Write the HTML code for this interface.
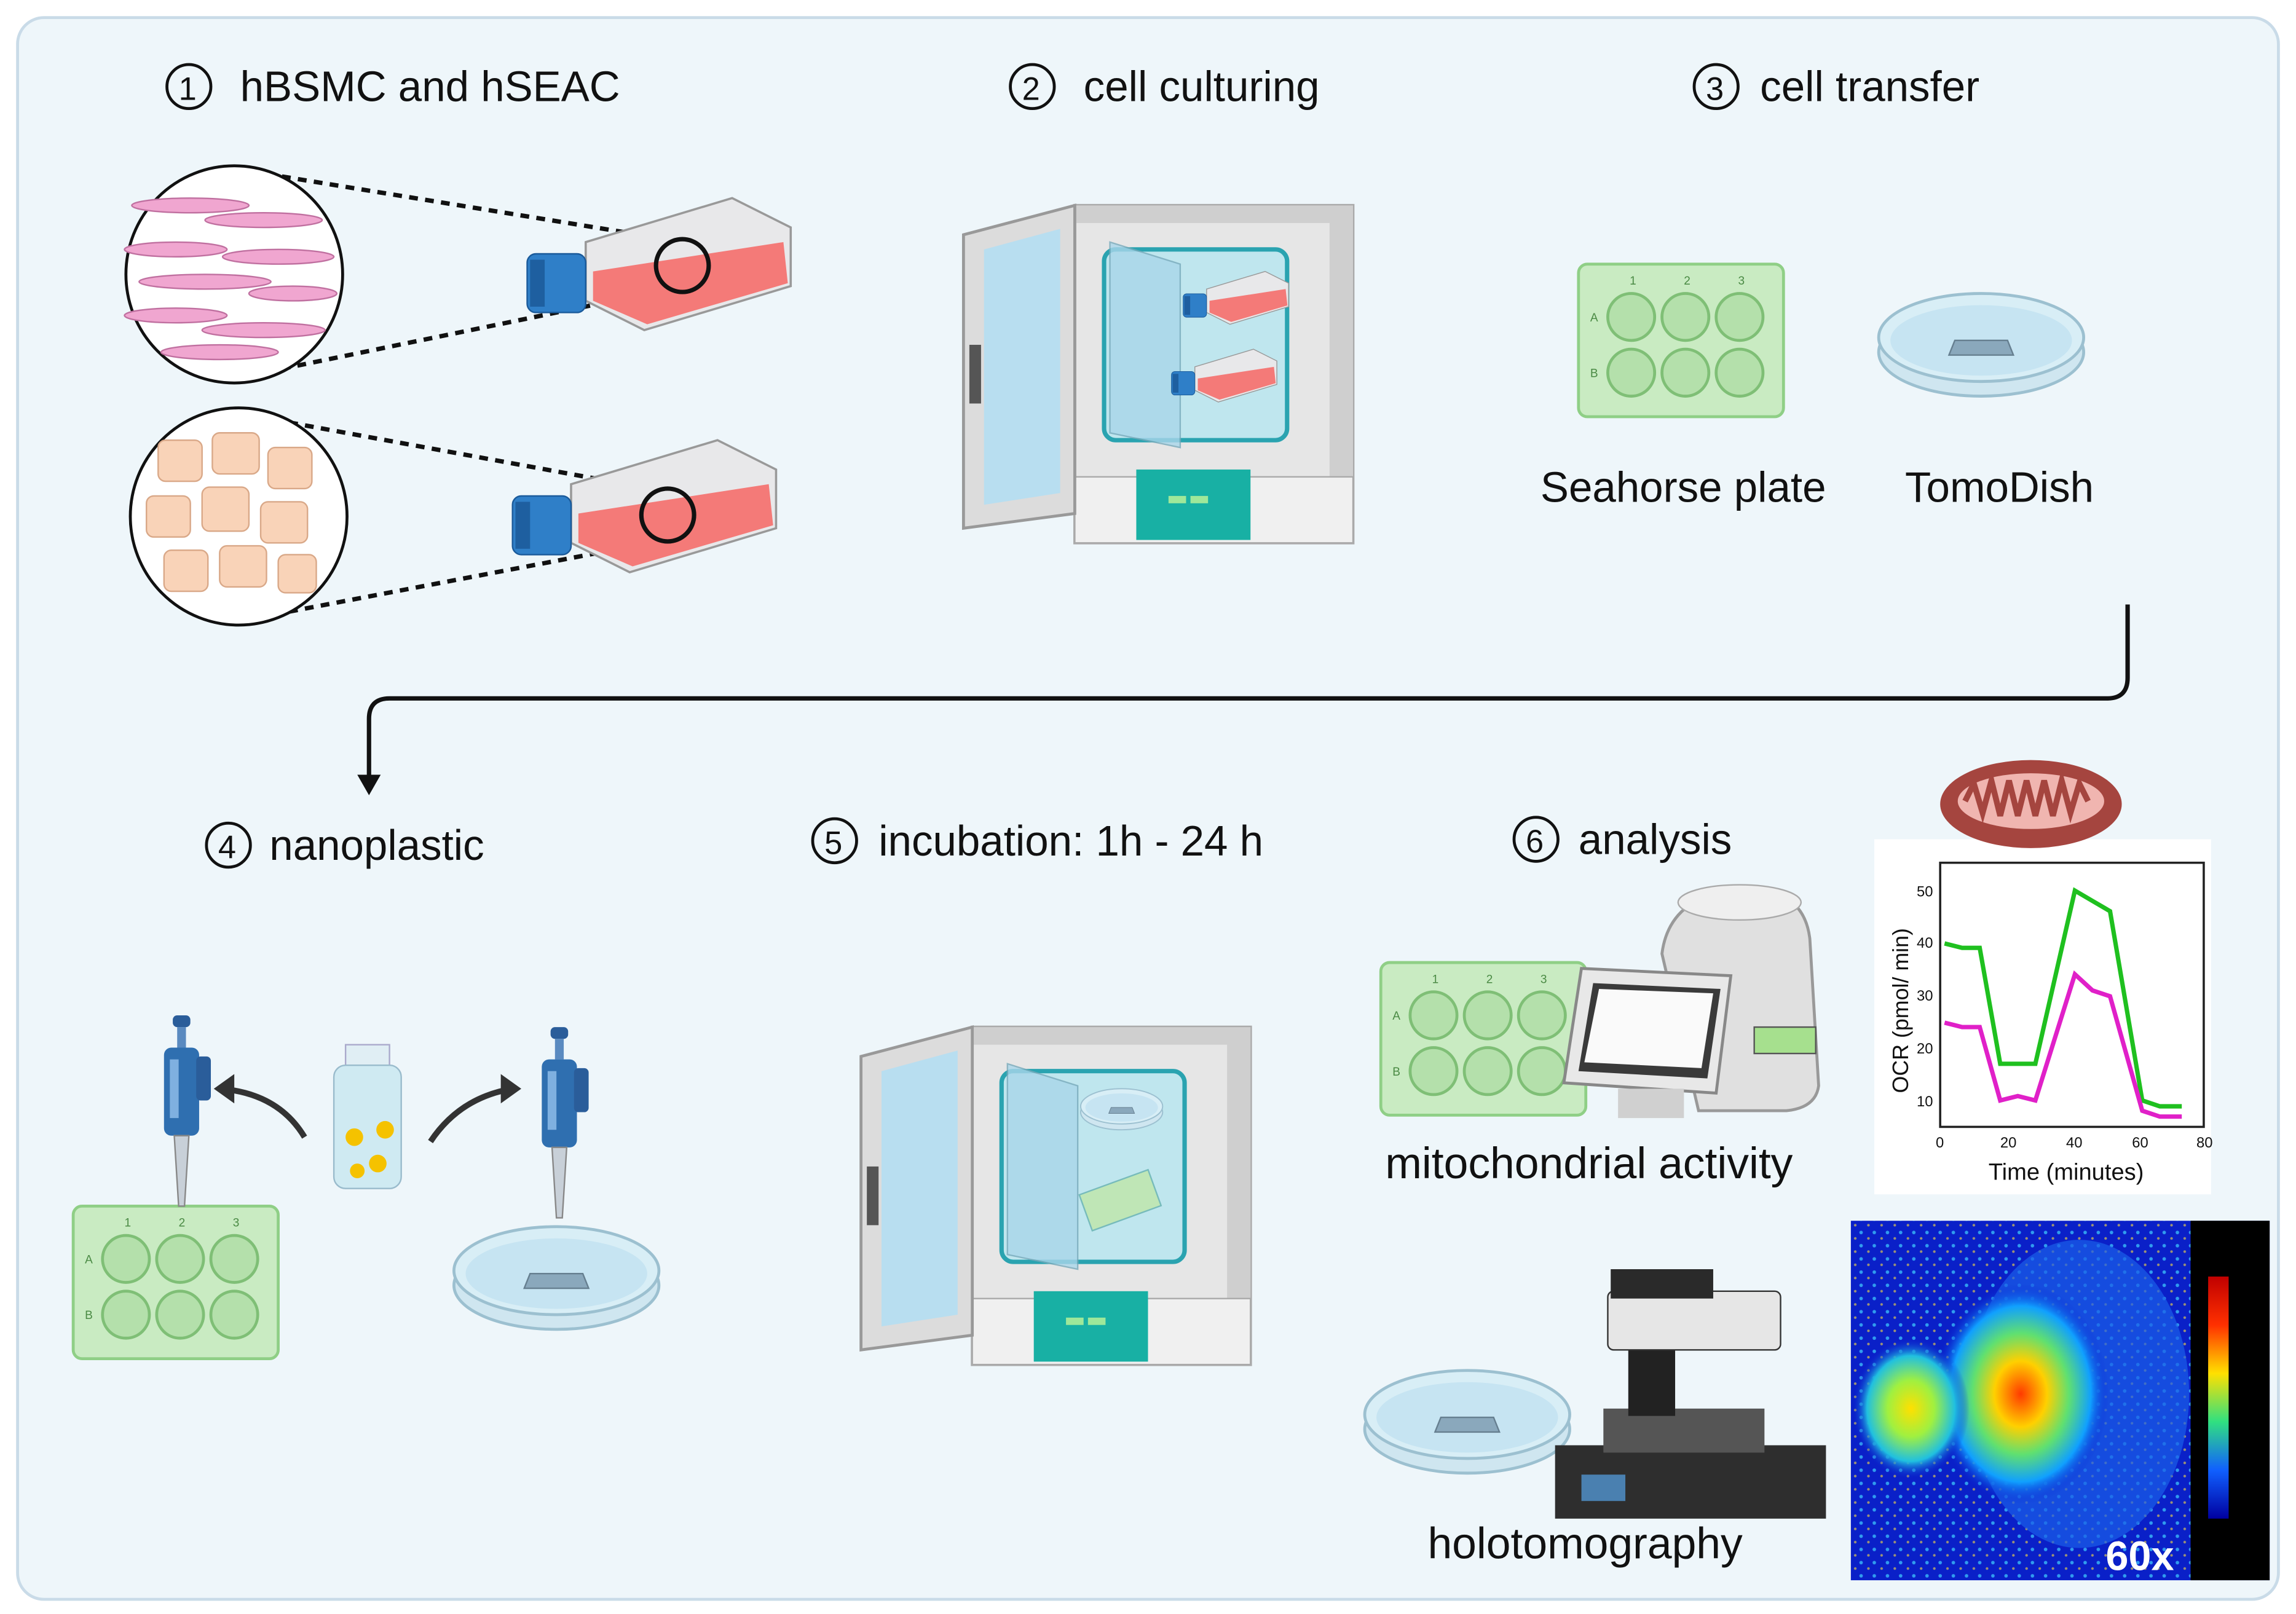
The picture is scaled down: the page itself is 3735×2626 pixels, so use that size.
<!DOCTYPE html>
<html><head><meta charset="utf-8"><style>
html,body{margin:0;padding:0;background:#fff;}
svg{display:block;width:3735px;height:2626px;}
text{font-family:"Liberation Sans",sans-serif;fill:#111;}
</style></head><body>
<svg viewBox="0 0 1568 1100" preserveAspectRatio="none" xmlns="http://www.w3.org/2000/svg">
<defs>
<radialGradient id="hm" cx="0.5" cy="0.5" r="0.5">
<stop offset="0" stop-color="#ff3a00"/><stop offset="0.3" stop-color="#ffd000"/><stop offset="0.55" stop-color="#60e070"/><stop offset="0.8" stop-color="#10a0ff"/><stop offset="1" stop-color="#0a20d0" stop-opacity="0"/></radialGradient>
<radialGradient id="hm2" cx="0.5" cy="0.5" r="0.5">
<stop offset="0" stop-color="#ffe000"/><stop offset="0.4" stop-color="#a0f040"/><stop offset="0.75" stop-color="#20c0e0"/><stop offset="1" stop-color="#0a20d0" stop-opacity="0"/></radialGradient>
<linearGradient id="cb" x1="0" y1="0" x2="0" y2="1"><stop offset="0" stop-color="#c00000"/><stop offset="0.2" stop-color="#ff3000"/><stop offset="0.4" stop-color="#ffe000"/><stop offset="0.6" stop-color="#30e080"/><stop offset="0.8" stop-color="#1060ff"/><stop offset="1" stop-color="#0000a0"/></linearGradient>
<pattern id="spk" width="9" height="9" patternUnits="userSpaceOnUse"><circle cx="2" cy="3" r="1.2" fill="#40d0ff" opacity="0.7"/><circle cx="7" cy="7" r="0.9" fill="#ffe040" opacity="0.6"/></pattern>
<g id="plate6">
<rect x="0" y="0" width="140" height="104" rx="6" fill="#c9ebc2" stroke="#8fcf86" stroke-width="2"/>
<g fill="#b4e0ab" stroke="#7fbf76" stroke-width="2">
<circle cx="36" cy="36" r="16"/><circle cx="73" cy="36" r="16"/><circle cx="110" cy="36" r="16"/>
<circle cx="36" cy="74" r="16"/><circle cx="73" cy="74" r="16"/><circle cx="110" cy="74" r="16"/></g>
<text x="35" y="14" font-size="8" style="fill:#4a8a44">1</text><text x="72" y="14" font-size="8" style="fill:#4a8a44">2</text><text x="109" y="14" font-size="8" style="fill:#4a8a44">3</text>
<text x="8" y="39" font-size="8" style="fill:#4a8a44">A</text><text x="8" y="77" font-size="8" style="fill:#4a8a44">B</text>
</g>
<g id="dish">
<ellipse cx="70" cy="50" rx="70" ry="30" fill="#cfe6f0" stroke="#9cc0d0" stroke-width="2"/>
<ellipse cx="70" cy="40" rx="70" ry="30" fill="#d8eef6" stroke="#9cc0d0" stroke-width="2"/>
<ellipse cx="70" cy="42" rx="62" ry="24" fill="#c6e4f2"/>
<polygon points="52,42 88,42 92,52 48,52" fill="#8aa8bc" stroke="#667f90"/>
</g>
<g id="incub">
<rect x="76" y="0" width="190" height="230" fill="#e6e6e6" stroke="#aaa" stroke-width="2"/>
<polygon points="76,0 266,0 266,230 250,220 250,12 76,12" fill="#cfcfcf"/>
<rect x="96" y="30" width="125" height="130" rx="8" fill="#bfe6ee" stroke="#2aa3b0" stroke-width="3"/>
<rect x="76" y="185" width="190" height="45" fill="#f0f0f0" stroke="#aaa"/>
<rect x="118" y="180" width="78" height="48" fill="#18b0a4"/>
<rect x="140" y="198" width="12" height="5" fill="#9ee89a"/><rect x="155" y="198" width="12" height="5" fill="#9ee89a"/>
<polygon points="0,20 76,0 76,210 0,220" fill="#dcdcdc" stroke="#999" stroke-width="2"/>
<polygon points="14,30 66,16 66,196 14,204" fill="#b8def0"/>
<rect x="4" y="95" width="8" height="40" fill="#555"/>
<polygon points="100,25 148,40 148,165 100,155" fill="#a9d6ea" opacity="0.8" stroke="#7ab" />
</g>
<g id="flask">
<polygon points="40,30 140,0 180,20 180,60 80,90 40,70" fill="#e8e8ea" stroke="#999" stroke-width="1.5"/>
<polygon points="45,50 175,30 178,58 82,86 45,70" fill="#f47a78"/>
<rect x="0" y="38" width="40" height="40" rx="6" fill="#2f7fc8" stroke="#1a5a9a"/>
<rect x="2" y="42" width="10" height="32" fill="#1e5fa0"/>
</g>
<g id="pipette">
<rect x="-6" y="0" width="12" height="8" rx="3" fill="#2a5d9a"/>
<rect x="-3" y="8" width="6" height="14" fill="#5a8ac0"/>
<rect x="-12" y="22" width="24" height="60" rx="5" fill="#2f6fb0"/>
<rect x="-8" y="30" width="6" height="40" fill="#7fb0e0"/>
<rect x="10" y="28" width="10" height="30" rx="3" fill="#2a5d9a"/>
<polygon points="-5,82 5,82 2,130 -2,130" fill="#c8d0d8" stroke="#888"/>
</g>
</defs>
<rect width="1568" height="1100" fill="#fff"/>
<rect x="12" y="12" width="1544" height="1078" rx="18" fill="#eef6fa" stroke="#c9dbe8" stroke-width="2"/>

<g font-size="29">
<circle cx="129" cy="59" r="15" fill="none" stroke="#111" stroke-width="2"/><text x="122" y="68" font-size="22">1</text>
<text x="164" y="69">hBSMC and hSEAC</text>
<circle cx="705" cy="59" r="15" fill="none" stroke="#111" stroke-width="2"/><text x="698" y="68" font-size="22">2</text>
<text x="740" y="69">cell culturing</text>
<circle cx="1172" cy="59" r="15" fill="none" stroke="#111" stroke-width="2"/><text x="1165" y="68" font-size="22">3</text>
<text x="1202" y="69">cell transfer</text>
<circle cx="156" cy="576" r="15" fill="none" stroke="#111" stroke-width="2"/><text x="149" y="585" font-size="22">4</text>
<text x="184" y="586">nanoplastic</text>
<circle cx="570" cy="573" r="15" fill="none" stroke="#111" stroke-width="2"/><text x="563" y="582" font-size="22">5</text>
<text x="600" y="583">incubation: 1h - 24  h</text>
<circle cx="1049" cy="572" r="15" fill="none" stroke="#111" stroke-width="2"/><text x="1042" y="581" font-size="22">6</text>
<text x="1078" y="582">analysis</text>
<text x="1052" y="342">Seahorse plate</text>
<text x="1301" y="342">TomoDish</text>
<text x="946" y="803" font-size="30">mitochondrial activity</text>
<text x="975" y="1062" font-size="30">holotomography</text>
</g>

<line x1="160" y1="115" x2="468" y2="165" stroke="#111" stroke-width="3" stroke-dasharray="6,5"/>
<line x1="160" y1="258" x2="468" y2="195" stroke="#111" stroke-width="3" stroke-dasharray="6,5"/>
<line x1="165" y1="282" x2="455" y2="335" stroke="#111" stroke-width="3" stroke-dasharray="6,5"/>
<line x1="165" y1="423" x2="455" y2="368" stroke="#111" stroke-width="3" stroke-dasharray="6,5"/>
<circle cx="160" cy="187" r="74" fill="#fff" stroke="#111" stroke-width="2"/>
<g fill="#f0a6d0" stroke="#c070a0">
<ellipse cx="130" cy="140" rx="40" ry="5"/><ellipse cx="180" cy="150" rx="40" ry="5"/><ellipse cx="120" cy="170" rx="35" ry="5"/>
<ellipse cx="190" cy="175" rx="38" ry="5"/><ellipse cx="140" cy="192" rx="45" ry="5"/><ellipse cx="200" cy="200" rx="30" ry="5"/>
<ellipse cx="120" cy="215" rx="35" ry="5"/><ellipse cx="180" cy="225" rx="42" ry="5"/><ellipse cx="150" cy="240" rx="40" ry="5"/></g>
<circle cx="163" cy="352" r="74" fill="#fff" stroke="#111" stroke-width="2"/>
<g fill="#f9d3b8" stroke="#d9a888">
<rect x="108" y="300" width="30" height="28" rx="5"/><rect x="145" y="295" width="32" height="28" rx="5"/><rect x="183" y="305" width="30" height="28" rx="5"/>
<rect x="100" y="338" width="30" height="28" rx="5"/><rect x="138" y="332" width="32" height="30" rx="5"/><rect x="178" y="342" width="32" height="28" rx="5"/>
<rect x="112" y="375" width="30" height="28" rx="5"/><rect x="150" y="372" width="32" height="28" rx="5"/><rect x="190" y="378" width="26" height="26" rx="5"/></g>
<use href="#flask" x="360" y="135"/>
<use href="#flask" x="350" y="300"/>
<circle cx="466" cy="181" r="18" fill="none" stroke="#111" stroke-width="3"/>
<circle cx="456" cy="351" r="18" fill="none" stroke="#111" stroke-width="3"/>

<use href="#incub" x="658" y="140"/>
<g transform="translate(808,185) scale(0.4)"><use href="#flask"/></g>
<g transform="translate(800,238) scale(0.4)"><use href="#flask"/></g>

<use href="#plate6" x="1078" y="180"/>
<use href="#dish" x="1283" y="190"/>

<path d="M1453,412 V462 Q1453,476 1439,476 H266 Q252,476 252,490 V532" fill="none" stroke="#111" stroke-width="3"/>
<polygon points="244,528 260,528 252,542" fill="#111"/>

<use href="#plate6" x="50" y="822"/>
<use href="#pipette" x="124" y="692"/>
<use href="#dish" x="310" y="826"/>
<use href="#pipette" x="382" y="700"/>
<path d="M208,775 Q190,745 150,742" fill="none" stroke="#333" stroke-width="4"/>
<polygon points="146,742 160,732 160,752" fill="#333"/>
<path d="M294,778 Q314,748 350,742" fill="none" stroke="#333" stroke-width="4"/>
<polygon points="356,742 342,732 342,752" fill="#333"/>
<rect x="236" y="712" width="30" height="16" fill="#e0eef4" stroke="#aac"/>
<rect x="228" y="726" width="46" height="84" rx="8" fill="#cfeaf2" stroke="#9bc"/>
<circle cx="242" cy="775" r="6" fill="#f5c200"/><circle cx="263" cy="770" r="6" fill="#f5c200"/><circle cx="258" cy="793" r="6" fill="#f5c200"/><circle cx="244" cy="798" r="5" fill="#f5c200"/>

<use href="#incub" x="588" y="700"/>
<g transform="translate(738,738) scale(0.4)"><use href="#dish"/></g>
<rect x="740" y="805" width="50" height="26" fill="#bfe6b6" stroke="#7bb" transform="rotate(-20 765 818)"/>

<use href="#plate6" x="943" y="656"/>
<path d="M1135,650 Q1140,610 1190,605 Q1232,605 1236,640 L1242,740 Q1240,755 1220,757 L1160,757 Z" fill="#e0e0e0" stroke="#999" stroke-width="2"/>
<ellipse cx="1188" cy="615" rx="42" ry="12" fill="#efefef" stroke="#aaa"/>
<rect x="1198" y="700" width="42" height="18" fill="#a6e08e" stroke="#555"/>
<polygon points="1080,660 1182,665 1172,745 1068,738" fill="#e8e8e8" stroke="#888" stroke-width="2"/>
<polygon points="1088,670 1175,674 1166,735 1078,730" fill="#3a3a3a"/>
<polygon points="1092,674 1170,677 1162,728 1082,724" fill="#fafafa"/>
<rect x="1105" y="742" width="45" height="20" fill="#d0d0d0"/>
<rect x="1280" y="572" width="230" height="242" fill="#fff"/>
<ellipse cx="1387" cy="548" rx="62" ry="30" fill="#a5453f"/>
<ellipse cx="1387" cy="546" rx="50" ry="19" fill="#f0b5b0"/>
<path d="M1342,546 l6,-12 l6,20 l6,-22 l6,24 l6,-24 l6,24 l6,-24 l6,24 l6,-24 l6,24 l6,-24 l6,22 l6,-20 l6,12" fill="none" stroke="#a5453f" stroke-width="4"/>
<rect x="1325" y="588" width="180" height="180" fill="none" stroke="#222" stroke-width="1.5"/>
<g font-size="10"><text x="1309" y="611">50</text><text x="1309" y="646">40</text><text x="1309" y="682">30</text><text x="1309" y="718">20</text><text x="1309" y="754">10</text>
<text x="1322" y="782">0</text><text x="1366" y="782">20</text><text x="1411" y="782">40</text><text x="1456" y="782">60</text><text x="1500" y="782">80</text></g>
<text x="1358" y="804" font-size="16">Time (minutes)</text>
<text x="1303" y="745" font-size="15" transform="rotate(-90 1303 745)">OCR (pmol/ min)</text>
<polyline points="1328,643 1340,646 1352,646 1366,725 1378,725 1390,725 1417,607 1429,614 1441,621 1463,750 1475,754 1490,754" fill="none" stroke="#1fc01f" stroke-width="3"/>
<polyline points="1328,697 1340,700 1352,700 1366,750 1378,747 1390,750 1417,664 1429,675 1441,679 1463,757 1475,761 1490,761" fill="none" stroke="#e020c8" stroke-width="3"/>
<rect x="1264" y="832" width="286" height="245" fill="#0a20c8"/>
<rect x="1264" y="832" width="232" height="245" fill="url(#spk)"/>
<ellipse cx="1420" cy="950" rx="75" ry="105" fill="#1a60e8" opacity="0.7"/>
<ellipse cx="1380" cy="950" rx="60" ry="75" fill="url(#hm)"/>
<ellipse cx="1305" cy="960" rx="40" ry="48" fill="url(#hm2)"/>
<rect x="1496" y="832" width="54" height="245" fill="#000"/>
<rect x="1508" y="870" width="14" height="165" fill="url(#cb)"/>
<text x="1438" y="1070" font-size="28" font-weight="bold" style="fill:#fff">60x</text>
<use href="#dish" x="932" y="924"/>
<rect x="1062" y="985" width="185" height="50" fill="#2e2e2e"/>
<rect x="1095" y="960" width="110" height="30" fill="#555"/>
<rect x="1112" y="915" width="32" height="50" fill="#222"/>
<rect x="1098" y="880" width="118" height="40" rx="4" fill="#e6e6e6" stroke="#333"/>
<rect x="1100" y="865" width="70" height="20" fill="#2a2a2a"/>
<rect x="1080" y="1005" width="30" height="18" fill="#4a80b0"/>
</svg>
</body></html>
